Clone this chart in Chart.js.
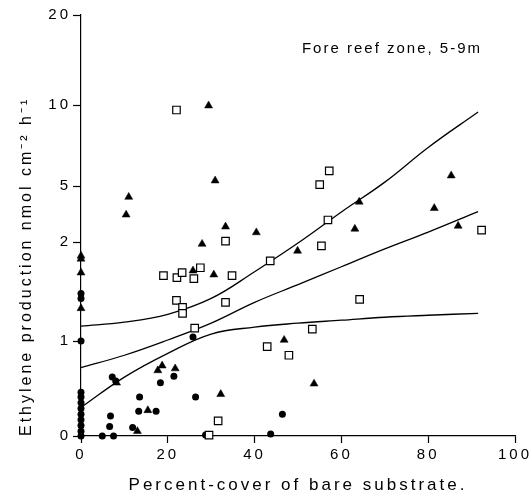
<!DOCTYPE html>
<html>
<head>
<meta charset="utf-8">
<script src="https://cdn.jsdelivr.net/npm/chart.js@4.4.1/dist/chart.umd.min.js"></script>
<style>
  html, body { margin: 0; padding: 0; background: #fff; }
  canvas { display: block; }
</style>
</head>
<body>
<canvas id="scatterChart" width="532" height="500"></canvas>
<script>
let ctx = document.getElementById('scatterChart').getContext('2d');

// the y axis of the figure is unevenly stretched: tick values and the axis units they sit at
const yTickValues = [0, 1, 2, 5, 10, 20];
const yTickStops = [0, 95, 194, 250, 331, 421];
const xTicks = [0, 20, 40, 60, 80, 100];

// filled circles
const circleX = [0, 0, 0, 0, 0, 0, 0, 0, 0, 0, 0, 0, 7.2, 8.0, 21.4, 18.3, 13.5, 26.4, 13.3, 17.3, 6.8, 6.6, 11.9, 4.9, 7.5, 28.7, 25.8, 46.4, 43.7];
const circleY = [1.48, 1.43, 1.0, 0.46, 0.41, 0.35, 0.29, 0.23, 0.17, 0.11, 0.05, 0, 0.62, 0.58, 0.63, 0.56, 0.41, 0.41, 0.26, 0.26, 0.21, 0.10, 0.09, 0, 0, 0.01, 1.04, 0.23, 0.02];

// filled triangles
const triangleX = [29.4, 30.9, 11.0, 10.4, 33.3, 40.4, 27.9, 0, 0, 0, 25.8, 30.6, 0, 18.7, 17.7, 21.7, 8.2, 32.2, 15.4, 13.0, 49.9, 64.1, 63.1, 46.8, 53.7, 85.3, 81.4, 86.9];
const triangleY = [9.96, 5.33, 4.41, 3.46, 2.82, 2.51, 1.98, 1.86, 1.83, 1.69, 1.71, 1.67, 1.33, 0.74, 0.69, 0.71, 0.56, 0.44, 0.27, 0.05, 1.91, 4.15, 2.70, 1.01, 0.55, 5.64, 3.81, 2.86];

// open squares
const squareX = [22.0, 33.3, 19.0, 22.1, 23.3, 26.0, 27.5, 34.8, 22.0, 23.4, 23.4, 33.3, 26.2, 31.6, 29.5, 43.6, 57.2, 55.0, 56.9, 55.4, 64.2, 53.3, 42.9, 47.9, 92.3];
const squareY = [9.69, 2.05, 1.66, 1.64, 1.69, 1.63, 1.74, 1.66, 1.41, 1.34, 1.28, 1.39, 1.13, 0.16, 0.01, 1.81, 5.93, 5.08, 3.18, 1.96, 1.42, 1.12, 0.94, 0.85, 2.64];

// regression line and its confidence band
const fitX = [0, 10, 20, 30, 40, 50, 60, 70, 80, 91.5];
const fitMid = [0.72, 0.85, 1.01, 1.18, 1.39, 1.57, 1.75, 1.93, 2.53, 3.63];
const fitUpper = [1.15, 1.19, 1.27, 1.43, 1.70, 1.99, 3.61, 5.24, 7.38, 9.57];
const fitLower = [0.30, 0.62, 0.87, 1.07, 1.14, 1.18, 1.21, 1.24, 1.26, 1.28];

const fontFamily = '"Liberation Sans", Arial, Helvetica, sans-serif';

//map a value onto the figure's stretched y axis
function toAxis(v) {
    for (let i = 1; i < yTickValues.length; i++) {
        if (v <= yTickValues[i]) {
            let t = (v - yTickValues[i - 1]) / (yTickValues[i] - yTickValues[i - 1]);
            return yTickStops[i - 1] + t * (yTickStops[i] - yTickStops[i - 1]);
        }
    }
    return yTickStops[yTickStops.length - 1];
}

function points(xs, ys) {
    return xs.map(function (x, i) {
        return { x: x, y: toAxis(ys[i]) };
    });
}

function fitLine(ys) {
    return {
        data: points(fitX, ys),
        showLine: true,
        borderColor: '#000',
        borderWidth: 1.3,
        pointRadius: 0,
        fill: false,
        tension: 0.4,
        clip: false
    };
}

//spaced-out lettering like the typeset figure, plus the zone label
const letterSpacing = {
    id: 'letterSpacing',
    beforeDraw(chart) {
        chart.ctx.letterSpacing = '3px';
    },
    afterDraw(chart) {
        let c = chart.ctx;
        c.save();
        c.letterSpacing = '2px';
        c.font = '15px ' + fontFamily;
        c.fillStyle = '#000';
        c.textAlign = 'right';
        c.textBaseline = 'middle';
        c.fillText('Fore reef zone, 5-9m', 482, 49);
        c.restore();
        c.letterSpacing = '0px';
    }
};

var data = {
    datasets: [
        {
            data: points(squareX, squareY),
            pointStyle: 'rect',
            pointRadius: 5.3,
            backgroundColor: '#fff',
            borderColor: '#000',
            borderWidth: 1.2,
            clip: false
        },
        {
            data: points(triangleX, triangleY),
            pointStyle: 'triangle',
            pointRadius: 4.6,
            backgroundColor: '#000',
            borderColor: '#000',
            borderWidth: 0.5,
            clip: false
        },
        {
            data: points(circleX, circleY),
            pointStyle: 'circle',
            pointRadius: 3.5,
            backgroundColor: '#000',
            borderColor: '#000',
            borderWidth: 0,
            clip: false
        },
        fitLine(fitUpper),
        fitLine(fitMid),
        fitLine(fitLower)
    ]
};

var options = {
    responsive: false,
    animation: false,
    layout: { padding: { left: 0, top: 15, right: 17, bottom: 0 } },
    plugins: {
        legend: { display: false },
        tooltip: { enabled: false }
    },
    scales: {
        x: {
            type: 'linear',
            min: 0,
            max: 100,
            afterFit: function (scale) { scale.height = 64; },
            afterBuildTicks: function (scale) {
                scale.ticks = xTicks.map(function (v) { return { value: v }; });
            },
            ticks: { color: '#000', font: { family: fontFamily, size: 15 }, padding: 3, maxRotation: 0 },
            grid: { drawOnChartArea: false, color: '#000', tickLength: 7, tickWidth: 1.2 },
            border: { color: '#000', width: 1.2 },
            title: {
                display: true,
                text: 'Percent-cover of bare substrate.',
                color: '#000',
                font: { family: fontFamily, size: 17 },
                padding: { top: 0, bottom: 4 }
            }
        },
        y: {
            type: 'linear',
            min: 0,
            max: yTickStops[yTickStops.length - 1],
            afterFit: function (scale) { scale.width = 81; },
            afterBuildTicks: function (scale) {
                scale.ticks = yTickStops.map(function (v) { return { value: v }; });
            },
            ticks: {
                color: '#000',
                font: { family: fontFamily, size: 15 },
                padding: 2,
                callback: function (value, index) { return String(yTickValues[index]); }
            },
            grid: { drawOnChartArea: false, color: '#000', tickLength: 8, tickWidth: 1.2 },
            border: { color: '#000', width: 1.2 },
            title: {
                display: true,
                text: 'Ethylene production nmol cm\u207B\u00B2 h\u207B\u00B9',
                align: 'start',
                color: '#000',
                font: { family: fontFamily, size: 16 },
                padding: { top: 17, bottom: 0 }
            }
        }
    }
};

let chart = new Chart(ctx, {
    type: 'scatter',
    data: data,
    options: options,
    plugins: [letterSpacing]
});
</script>
</body>
</html>
